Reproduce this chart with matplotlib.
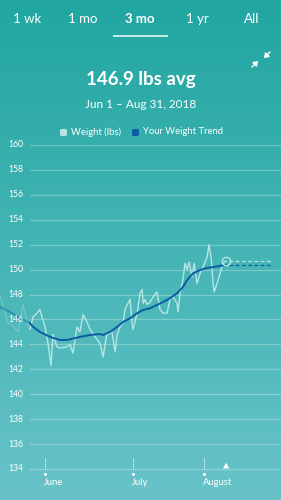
import numpy as np
import matplotlib.pyplot as plt
from matplotlib.patches import FancyBboxPatch, Polygon

plt.rcParams['font.family'] = ['Lato', 'DejaVu Sans']

# ---- data (days from start of visible range, lbs) ----
tabs = ["1 wk", "1 mo", "3 mo", "1 yr", "All"]
active_tab = "3 mo"
avg_text = "146.9 lbs avg"
range_text = "Jun 1 \u2013 Aug 31, 2018"

yticks = [134, 136, 138, 140, 142, 144, 146, 148, 150, 152, 154, 156, 158, 160]
month_labels = ["June", "July", "August"]
month_days = [5.8, 39.6, 66.9]

# faded part before the visible range
pre_days = [-11.5, -10.0, -8.5, -6.9, -5.8, -4.6, -3.5, -2.7, -1.5, 0.0]
pre_weight = [147.9, 146.8, 145.8, 145.5, 145.3, 145.0, 146.1, 147.2, 146.1, 145.2]

days = [0.0, 1.2, 2.7, 3.8, 4.6, 5.8, 6.9, 8.1, 8.8, 10.4, 11.5, 14.2, 15.4, 16.5,
        18.1, 19.2, 20.4, 21.9, 23.1, 25.0, 26.9, 28.1, 29.6, 30.0, 31.5, 32.7,
        33.5, 34.6, 35.8, 36.5, 37.7, 38.5, 39.2, 39.6, 41.2, 42.3, 43.1, 43.5,
        44.2, 45.0, 46.2, 47.3, 48.8, 50.0, 51.2, 52.7, 53.8, 55.0, 56.5, 56.9,
        57.7, 58.8, 59.6, 60.4, 61.2, 62.3, 63.1, 64.2, 65.4, 66.5, 68.1, 68.8,
        69.6, 70.4, 70.8, 71.9, 73.1, 74.2, 75.4]
weight = [145.2, 146.2, 146.5, 146.8, 146.2, 145.4, 144.1, 142.3, 144.8, 143.8,
          143.7, 143.8, 144.0, 143.3, 145.4, 145.0, 146.4, 145.8, 145.2, 144.6,
          144.1, 143.0, 144.9, 144.8, 145.0, 143.4, 144.8, 145.4, 145.7, 146.8,
          147.3, 147.6, 145.7, 145.2, 146.5, 148.1, 148.4, 147.3, 147.6, 147.2,
          147.4, 147.8, 148.2, 146.8, 146.5, 146.5, 147.6, 147.8, 147.3, 146.6,
          148.1, 149.2, 150.5, 150.0, 150.6, 149.4, 150.5, 148.9, 149.7, 150.2,
          151.0, 152.0, 151.0, 148.9, 148.2, 148.9, 149.7, 150.5, 150.7]

pre_trend_days = [-11.5, -7.7, -3.8, 0.0]
pre_trend = [147.0, 146.6, 146.1, 145.7]
trend_days = [0.0, 1.2, 3.8, 7.7, 11.5, 14.2, 19.2, 23.1, 26.9, 28.1, 30.8, 33.5,
              35.8, 38.5, 41.2, 43.5, 46.2, 48.8, 51.2, 53.8, 56.5, 58.8, 60.4,
              62.7, 65.4, 68.1, 70.4, 73.1, 75.4]
trend = [145.7, 145.4, 145.0, 144.6, 144.35, 144.35, 144.6, 144.75, 144.83,
         144.75, 145.0, 145.4, 145.8, 146.1, 146.5, 146.76, 146.9, 147.16, 147.4,
         147.7, 148.1, 148.6, 149.16, 149.7, 149.97, 150.13, 150.2, 150.3, 150.37]
proj_end = 93.5

# ---- style ----
W, H = 281, 500
light = '#b6e6e4'
dark = '#0b5ca3'
white = '#ffffff'

fig = plt.figure(figsize=(W / 100, H / 100), dpi=100)

# gradient background
bg = fig.add_axes([0, 0, 1, 1])
grad = np.linspace(0, 1, 256)[:, None]
top = np.array([33, 166, 161]) / 255
bot = np.array([104, 195, 200]) / 255
img = top[None, None, :] * (1 - grad[:, :, None]) + bot[None, None, :] * grad[:, :, None]
bg.imshow(img, aspect='auto', extent=[0, 1, 0, 1])
bg.set_xlim(0, 1)
bg.set_ylim(0, 1)
bg.axis('off')

def fx(px):
    return px / W

def fy(py):
    return 1 - py / H

# tabs
tab_x = [27, 83, 140, 197, 252]
for t, x in zip(tabs, tab_x):
    bold = t == active_tab
    fig.text(fx(x), fy(19), t, ha='center', va='center', color=white,
             fontsize=9.5, fontweight='bold' if bold else 'normal')
bg.plot([fx(113), fx(168)], [fy(36), fy(36)], color='#d5f0ee', lw=1.3,
        solid_capstyle='butt')

# collapse icon
for (x0, y0, x1, y1) in [(252, 67, 258, 61), (270, 52, 264, 58)]:
    bg.annotate('', xy=(fx(x1), fy(y1)), xytext=(fx(x0), fy(y0)),
                arrowprops=dict(arrowstyle='-|>,head_length=0.25,head_width=0.18',
                                color=white, lw=1.0, shrinkA=0, shrinkB=0))

fig.text(0.5, fy(79), avg_text, ha='center', va='center', color=white,
         fontsize=13.5, fontweight='bold')
fig.text(0.5, fy(104), range_text, ha='center', va='center', color=white,
         fontsize=8.5)

# legend
for sx, col, lbl in [(60, light, "Weight (lbs)"), (132, dark, "Your Weight Trend")]:
    bg.add_patch(FancyBboxPatch((fx(sx), fy(136)), fx(7), 7 / H,
                                boxstyle='round,pad=0,rounding_size=0.004',
                                fc=col, ec='none'))
    fig.text(fx(sx + 11), fy(132), lbl, ha='left', va='center', color=white,
             fontsize=6.8)

# chart axes
ax = fig.add_axes([0, fy(493.9), 1, (493.9 - 132.5) / H])
ax.set_xlim(-11.54, 96.5)
ax.set_ylim(132, 161)
ax.patch.set_alpha(0)
ax.axis('off')

grid_start = 0.0
for v in yticks:
    ax.plot([grid_start, 96.5], [v, v], color='#ffffff', alpha=0.28, lw=0.9)
    ax.text(fx(8), v, str(v), transform=ax.get_yaxis_transform(),
            ha='left', va='center', color=white, fontsize=6.2)

for d, lbl in zip(month_days, month_labels):
    ax.plot([d, d], [134, 134.9], color=white, alpha=0.5, lw=0.7)
    ax.plot([d], [133.6], 'o', color=white, ms=2.2, mec='none', clip_on=False)
    ax.text(d - 0.4, 132.9, lbl, ha='left', va='center', color=white, fontsize=6.8)

# raw weight and trend
ax.plot(pre_days, pre_weight, color=light, lw=0.9, alpha=0.35)
ax.plot(pre_trend_days, pre_trend, color=dark, lw=1.3, alpha=0.45)
ax.plot(days, weight, color=light, lw=1.0)
ax.plot(trend_days, trend, color=dark, lw=1.4)

# projection
ax.plot([days[-1] + 1.0, proj_end], [weight[-1], weight[-1]], color=light, lw=0.9,
        dashes=(3, 2))
ax.plot([trend_days[-1] + 1.0, proj_end], [trend[-1], trend[-1]], color=dark, lw=0.9,
        dashes=(3, 2))
ax.plot([days[-1]], [weight[-1]], 'o', ms=6, mfc='none', mec=light, mew=1.0)

# marker under latest point
tri_x = days[-1]
ax.add_patch(Polygon([[tri_x - 1.2, 134.05], [tri_x + 1.2, 134.05], [tri_x, 134.5]],
                     closed=True, fc=white, ec='none'))

fig.savefig('out.png', dpi=100)
